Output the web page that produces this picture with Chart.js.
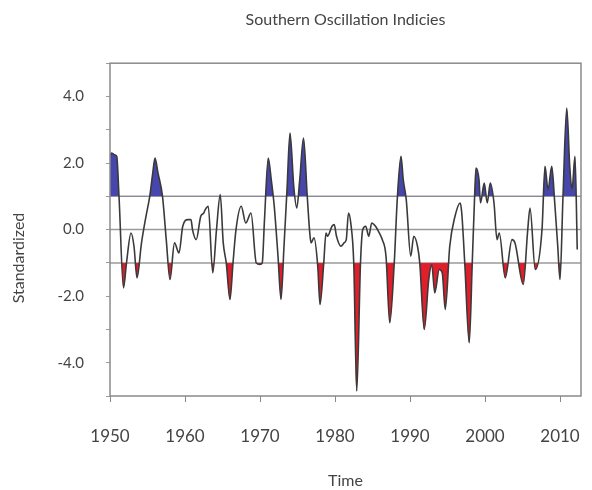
<!DOCTYPE html>
<html>
<head>
<meta charset="utf-8">
<script src="https://cdn.jsdelivr.net/npm/chart.js@4/dist/chart.umd.min.js"></script>
<style>
  html, body { margin: 0; padding: 0; background: #fff; }
  #wrap { width: 592px; height: 490px; }
</style>
</head>
<body>
<div id="wrap"><canvas id="soiChart" width="592" height="490"></canvas></div>
<script>
// Smoothed Southern Oscillation index
const years = [
    1950.0, 1950.2, 1950.6, 1950.9, 1951.2, 1951.8, 1952.2, 1952.8, 1953.2, 1953.6,
    1954.2, 1954.8, 1955.3, 1955.7, 1956.0, 1956.4, 1957.0, 1957.5, 1958.0, 1958.6,
    1959.2, 1959.7, 1960.4, 1960.8, 1961.0, 1961.5, 1962.1, 1962.5, 1962.7, 1963.1,
    1963.7, 1964.2, 1964.7, 1965.1, 1965.5, 1966.0, 1966.4, 1966.8, 1967.5, 1968.1,
    1968.8, 1969.5, 1970.0, 1970.3, 1970.6, 1971.1, 1971.5, 1971.9, 1972.4, 1972.8,
    1973.2, 1973.6, 1974.0, 1974.5, 1974.9, 1975.3, 1975.8, 1976.3, 1976.6, 1976.8,
    1977.2, 1977.7, 1978.0, 1978.5, 1978.8, 1979.0, 1979.6, 1979.9, 1980.2, 1980.8,
    1981.2, 1981.5, 1981.8, 1982.1, 1982.5, 1982.9, 1983.4, 1983.7, 1984.1, 1984.5,
    1984.9, 1985.4, 1985.9, 1986.3, 1986.8, 1987.3, 1987.9, 1988.3, 1988.8, 1989.1,
    1989.5, 1990.1, 1990.5, 1991.0, 1991.3, 1991.9, 1992.5, 1992.9, 1993.3, 1993.9,
    1994.3, 1994.7, 1995.3, 1996.0, 1996.7, 1996.9, 1997.3, 1997.9, 1998.3, 1998.6,
    1998.8, 1999.2, 1999.4, 1999.9, 2000.3, 2000.7, 2001.2, 2001.6, 2001.9, 2002.7,
    2003.6, 2004.0, 2005.1, 2005.7, 2006.0, 2006.7, 2007.6, 2008.0, 2008.4, 2008.9,
    2009.3, 2009.7, 2010.0, 2010.4, 2010.9, 2011.3, 2011.6, 2012.0, 2012.3
];
const soi = [
    2.2, 2.3, 2.25, 2.2, 1.0, -1.75, -1.0, -0.1, -0.5, -1.45,
    -0.4, 0.4, 1.0, 1.7, 2.15, 1.7, 1.0, -0.3, -1.5, -0.4,
    -0.7, 0.1, 0.3, 0.3, 0.0, -0.3, 0.4, 0.5, 0.6, 0.7,
    -1.3, 0.0, 1.05, -0.4, -1.0, -2.1, -1.0, 0.0, 0.7, 0.2,
    0.5, -1.0, -1.05, -1.0, 0.3, 2.15, 1.5, 0.7, -0.8, -2.1,
    -0.5, 1.2, 2.9, 1.3, 0.65, 1.5, 2.75, 1.0, 0.0, -0.4,
    -0.25, -1.1, -2.25, -1.0, -0.1, -0.2, 0.1, 0.15, -0.2, -0.5,
    -0.4, -0.3, 0.5, 0.2, -1.0, -4.85, -1.0, 0.0, 0.1, -0.2,
    0.2, 0.1, -0.1, -0.3, -0.8, -2.8, -1.0, 0.9, 2.2, 1.5,
    0.9, -0.8, -0.2, -0.5, -1.0, -3.0, -1.5, -1.05, -1.9, -1.2,
    -1.3, -2.4, -0.5, 0.4, 0.8, 0.5, -1.0, -3.4, -1.0, 0.9,
    1.85, 1.5, 0.8, 1.4, 0.8, 1.4, 0.8, -0.3, -0.1, -1.45,
    -0.3, -0.4, -1.65, 0.0, 0.65, -1.2, 0.0, 1.9, 1.2, 1.9,
    0.8, -0.5, -1.5, 1.0, 3.65, 1.9, 1.2, 2.2, -0.6
];

const xTickYears = [1950, 1960, 1970, 1980, 1990, 2000, 2010];
const yTickValues = [-5, -4.5, -4, -3.5, -3, -2.5, -2, -1.5, -1, -0.5, 0, 0.5, 1, 1.5, 2, 2.5, 3, 3.5, 4, 4.5, 5];
const yLabelled = [-4, -2, 0, 2, 4];
const refLevels = [1, 0, -1];
const xMin = 1950, xMax = 2012.8;

const fontFamily = 'Lato, "Open Sans", sans-serif';
const textColor = '#444';

const points = years.map((yr, i) => ({ x: yr, y: soi[i] }));

// box round the plot
const frame = {
    id: 'frame',
    afterDraw(chart) {
        const { ctx, chartArea: a } = chart;
        ctx.save();
        ctx.strokeStyle = '#8a8a8a';
        ctx.lineWidth = 1.5;
        ctx.strokeRect(a.left, a.top, a.right - a.left, a.bottom - a.top);
        ctx.restore();
    }
};

// y title sits a little below the middle in the original
const yTitle = {
    id: 'yTitle',
    afterDraw(chart) {
        const ctx = chart.ctx;
        ctx.save();
        ctx.translate(19, 258);
        ctx.rotate(-Math.PI / 2);
        ctx.font = '16px ' + fontFamily;
        ctx.fillStyle = textColor;
        ctx.textAlign = 'center';
        ctx.textBaseline = 'middle';
        ctx.fillText('Standardized', 0, 0);
        ctx.restore();
    }
};

const refSets = refLevels.map(v => ({
    data: [{ x: xMin, y: v }, { x: xMax, y: v }],
    borderColor: '#9a9a9a',
    borderWidth: 1.5,
    pointRadius: 0,
    fill: false,
    order: 3
}));

new Chart(document.getElementById('soiChart'), {
    type: 'line',
    data: {
        datasets: [
            ...refSets,
            {
                // red under -1
                data: points,
                borderWidth: 0,
                borderColor: 'rgba(0,0,0,0)',
                pointRadius: 0,
                cubicInterpolationMode: 'monotone',
                fill: { target: { value: -1 }, above: 'rgba(0,0,0,0)', below: 'rgb(226, 30, 42)' },
                order: 2
            },
            {
                // blue over +1 and the line itself
                data: points,
                borderColor: '#3a3a3a',
                borderWidth: 1.6,
                pointRadius: 0,
                cubicInterpolationMode: 'monotone',
                fill: { target: { value: 1 }, above: 'rgb(70, 70, 172)', below: 'rgba(0,0,0,0)' },
                order: 1
            }
        ]
    },
    options: {
        responsive: false,
        animation: false,
        layout: { padding: { right: 11 } },
        plugins: {
            legend: { display: false },
            tooltip: { enabled: false },
            title: {
                display: true,
                text: 'Southern Oscillation Indicies',
                fullSize: false,
                color: textColor,
                font: { family: fontFamily, size: 16, weight: 'normal' },
                padding: { top: 10, bottom: 34 }
            }
        },
        scales: {
            x: {
                type: 'linear',
                min: xMin,
                max: xMax,
                afterBuildTicks: scale => { scale.ticks = xTickYears.map(v => ({ value: v })); },
                afterFit: scale => {
                    scale.height = 94;
                    scale.paddingLeft = 0;
                    scale.paddingRight = 0;
                },
                grid: { drawOnChartArea: false, tickLength: 6, tickColor: '#8a8a8a' },
                border: { display: false },
                ticks: {
                    color: textColor,
                    padding: 24,
                    maxRotation: 0,
                    font: { family: fontFamily, size: 17 },
                    callback: v => String(v)
                },
                title: {
                    display: true,
                    text: 'Time',
                    color: textColor,
                    font: { family: fontFamily, size: 16 },
                    padding: { top: 0, bottom: 0 }
                }
            },
            y: {
                min: -5,
                max: 5,
                afterBuildTicks: scale => { scale.ticks = yTickValues.map(v => ({ value: v })); },
                afterFit: scale => {
                    scale.width = 110;
                    scale.paddingTop = 0;
                    scale.paddingBottom = 0;
                },
                grid: { drawOnChartArea: false, tickLength: 4, tickColor: '#9a9a9a' },
                border: { display: false },
                ticks: {
                    color: textColor,
                    padding: 22,
                    font: { family: fontFamily, size: 15 },
                    callback: v => yLabelled.includes(v) ? v.toFixed(1) : ''
                }
            }
        }
    },
    plugins: [frame, yTitle]
});
</script>
</body>
</html>
